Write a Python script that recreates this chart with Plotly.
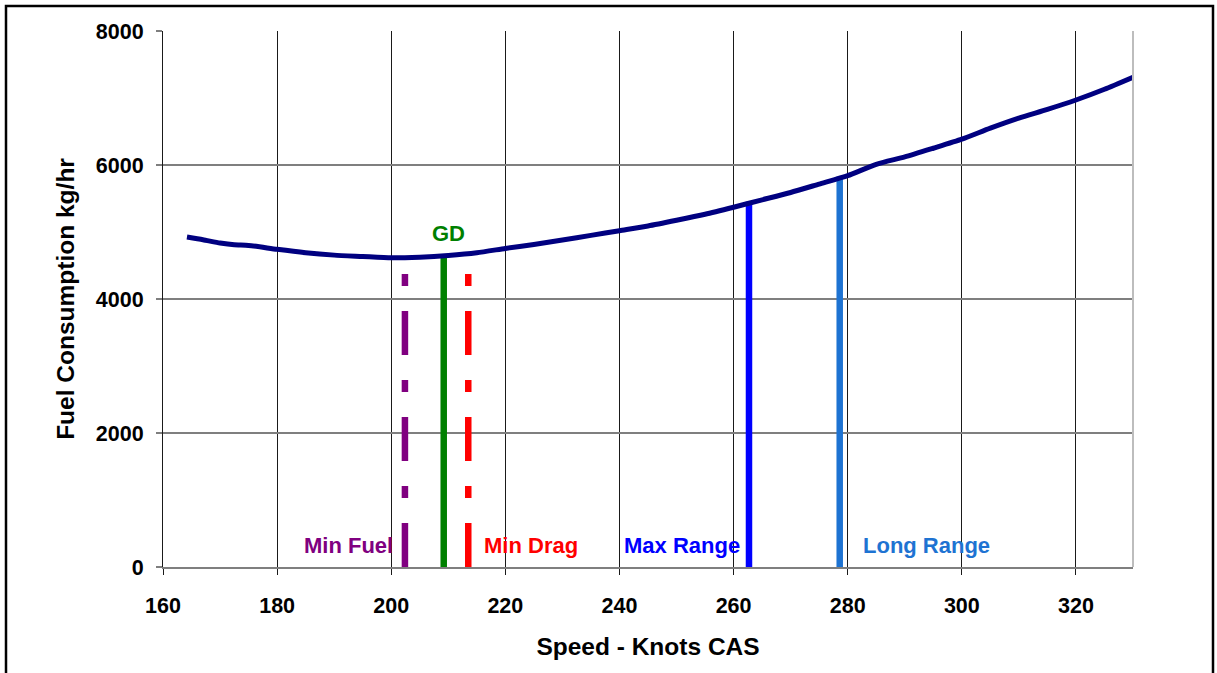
import plotly.graph_objects as go

# ---- data ----
speed_kts = [164.2, 167, 170, 172.5, 175, 180, 185, 190, 195, 200, 205, 210, 215, 220,
             225, 230, 235, 240, 245, 250, 255, 260, 265, 270, 275, 280, 285, 290,
             295, 300, 305, 310, 315, 320, 325, 330]
fuel_kgh = [4925, 4885, 4835, 4808, 4800, 4741, 4690, 4655, 4635, 4615, 4625, 4650, 4690, 4755,
            4815, 4880, 4950, 5020, 5090, 5175, 5265, 5370, 5480, 5590, 5715, 5840, 6010, 6120,
            6250, 6385, 6550, 6700, 6830, 6970, 7130, 7310]

marker_names = ["Min Fuel", "GD", "Min Drag", "Max Range", "Long Range"]
marker_speed = [202.4, 209.2, 213.5, 262.7, 278.6]
marker_top = [4400, 4650, 4400, 5450, 5830]
marker_colors = ["#800080", "#008000", "#FF0000", "#0000FF", "#1E73D2"]
marker_dash = ["44px,25px,12px,25px", "solid", "44px,25px,12px,25px", "solid", "solid"]

label_text = ["Min Fuel", "GD", "Min Drag", "Max Range", "Long Range"]
label_x = [192.5, 210.1, 224.5, 250.9, 293.8]
label_y = [328, 4985, 328, 328, 328]

x_ticks = [160, 180, 200, 220, 240, 260, 280, 300, 320]
y_ticks = [0, 2000, 4000, 6000, 8000]

FONT = "Arial, 'Liberation Sans', sans-serif"

fig = go.Figure()

for name, xs, top, col, dash in zip(marker_names, marker_speed, marker_top, marker_colors, marker_dash):
    fig.add_trace(go.Scatter(x=[xs, xs], y=[0, top], mode="lines", name=name,
                             line=dict(color=col, width=6.5, dash=dash),
                             showlegend=False, hoverinfo="skip"))

fig.add_trace(go.Scatter(x=speed_kts, y=fuel_kgh, mode="lines", name="Fuel Consumption",
                         line=dict(color="#000080", width=5, shape="spline", smoothing=0.6),
                         showlegend=False))

for t, xv, yv, col in zip(label_text, label_x, label_y, marker_colors):
    fig.add_annotation(x=xv, y=yv, text=f"<b>{t}</b>", showarrow=False,
                       font=dict(family=FONT, size=22, color=col),
                       xanchor="center", yanchor="middle")

W, H = 1217, 673
L, R, T, B = 163, 84, 31, 106
pw, ph = W - L - R, H - T - B

def px_x(p):
    return (p - L) / pw

def px_y(p):
    return (H - B - p) / ph

# outer frame (left, top, right)
fig.add_shape(type="path", xref="paper", yref="paper",
              path=f"M {px_x(6)} {px_y(700)} L {px_x(6)} {px_y(6)} L {px_x(1213)} {px_y(6)} L {px_x(1213)} {px_y(700)}",
              line=dict(color="black", width=2.5))
# right edge of plot area
fig.add_shape(type="line", xref="paper", yref="paper", x0=1, x1=1, y0=0, y1=1,
              line=dict(color="#BDBDBD", width=2))

fig.update_layout(
    width=W, height=H,
    margin=dict(l=L, r=R, t=T, b=B, autoexpand=False),
    paper_bgcolor="white", plot_bgcolor="white",
    font=dict(family=FONT, color="black"),
    xaxis=dict(range=[160, 330], tickvals=x_ticks, ticktext=[f"<b>{v}</b>" for v in x_ticks],
               showgrid=True, gridcolor="#1a1a1a", gridwidth=1, zeroline=False,
               ticks="outside", ticklen=6, tickcolor="#1a1a1a", tickwidth=1,
               showline=True, linecolor="#7f7f7f", linewidth=2,
               tickfont=dict(family=FONT, size=21.5, color="black"), ticklabelstandoff=12,
               title=dict(text="<b>Speed - Knots CAS</b>", font=dict(family=FONT, size=24.5, color="black"),
                          standoff=21),
               automargin=False),
    yaxis=dict(range=[0, 8000], tickvals=y_ticks, ticktext=[f"<b>{v}</b>" for v in y_ticks],
               showgrid=True, gridcolor="#7f7f7f", gridwidth=2, zeroline=False,
               ticks="outside", ticklen=6, tickcolor="#7f7f7f", tickwidth=2,
               showline=True, linecolor="#1a1a1a", linewidth=1,
               tickfont=dict(family=FONT, size=21.5, color="black"), ticklabelstandoff=8,
               title=dict(text="<b>Fuel Consumption kg/hr</b>", font=dict(family=FONT, size=24.5, color="black"),
                          standoff=14),
               automargin=False),
)

fig.write_html("out.html")
